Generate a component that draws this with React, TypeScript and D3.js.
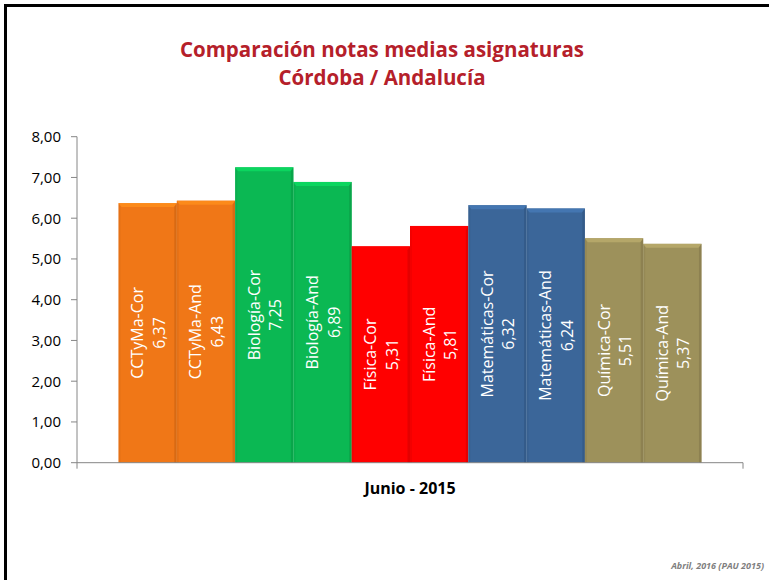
import React from "react";
import * as d3 from "d3";

const seriesNames = [
  "CCTyMa-Cor", "CCTyMa-And", "Biología-Cor", "Biología-And", "Física-Cor",
  "Física-And", "Matemáticas-Cor", "Matemáticas-And", "Química-Cor", "Química-And",
];
const seriesValues = [6.37, 6.43, 7.25, 6.89, 5.31, 5.81, 6.32, 6.24, 5.51, 5.37];
const seriesColors = [
  "#F07717", "#F07717", "#0BB853", "#0BB853", "#FF0000",
  "#FF0000", "#3B6699", "#3B6699", "#9D915B", "#9D915B",
];
const categories = ["Junio - 2015"];
const yTicks = [0, 1, 2, 3, 4, 5, 6, 7, 8];
const titleLines = ["Comparación notas medias asignaturas", "Córdoba / Andalucía"];
const footer = "Abril, 2016 (PAU 2015)";

const W = 769;
const H = 580;
const plotLeft = 77;
const plotRight = 743;
const plotTop = 136.7;
const plotBottom = 462.7;
const FONT = "'Open Sans', sans-serif";

export default function App() {
  const y = d3.scaleLinear().domain([0, 8]).range([plotBottom, plotTop]);
  const x0 = d3.scaleBand().domain(categories).range([plotLeft, plotRight]).paddingInner(0).paddingOuter(0.0712);
  const x1 = d3.scaleBand().domain(seriesNames).range([0, x0.bandwidth()]).padding(0);
  const fmt = (v: number) => d3.format(".2f")(v).replace(".", ",");

  return (
    <svg width={W} height={H} style={{ position: "absolute", left: 0, top: 0, background: "#fff" }} fontFamily={FONT}>
      <rect x={0} y={0} width={W} height={H} fill="#fff" />
      <rect x={5.5} y={5.5} width={W + 10} height={H + 10} fill="none" stroke="#000" strokeWidth={3} />
      {titleLines.map((t, i) => (
        <text key={i} x={382} y={57 + i * 28} textAnchor="middle" fontSize={20.5} fontWeight="bold" fill="#B5202A">{t}</text>
      ))}
      {/* y axis */}
      <line x1={plotLeft} x2={plotLeft} y1={plotTop} y2={plotBottom} stroke="#868686" strokeWidth={1} />
      {yTicks.map((t) => (
        <g key={t}>
          <line x1={plotLeft - 6} x2={plotLeft} y1={y(t)} y2={y(t)} stroke="#868686" />
          <text x={plotLeft - 16} y={y(t)} dy="0.36em" textAnchor="end" fontSize={15} fill="#000">{fmt(t)}</text>
        </g>
      ))}
      {/* bars */}
      {categories.map((c) => (
        <g key={c} transform={`translate(${x0(c)},0)`}>
          {seriesNames.map((s, i) => {
            const bx = x1(s)!;
            const bw = x1.bandwidth();
            const by = y(seriesValues[i]);
            const bh = plotBottom - by;
            const col = d3.color(seriesColors[i])!;
            const light = col.brighter(0.5).formatHex();
            const dark = col.darker(0.6).formatHex();
            const cx = bx + bw / 2;
            const cy = by + bh / 2;
            return (
              <g key={s}>
                <rect x={bx} y={by} width={bw} height={bh} fill={seriesColors[i]} />
                <polygon points={`${bx},${by} ${bx + bw},${by} ${bx + bw - 3},${by + 4} ${bx + 3},${by + 4}`} fill={light} opacity={0.8} />
                <polygon points={`${bx + bw},${by} ${bx + bw},${plotBottom} ${bx + bw - 2.5},${plotBottom} ${bx + bw - 2.5},${by + 4}`} fill={dark} opacity={0.55} />
                <polygon points={`${bx},${by} ${bx + 2},${by + 4} ${bx + 2},${plotBottom} ${bx},${plotBottom}`} fill={dark} opacity={0.25} />
                <text transform={`translate(${cx},${cy}) rotate(-90)`} textAnchor="middle" fontSize={16} fill="#fff">
                  <tspan x={0} y={-4.5}>{s}</tspan>
                  <tspan x={0} y={17}>{fmt(seriesValues[i])}</tspan>
                </text>
              </g>
            );
          })}
          <text x={x0.bandwidth() / 2} y={plotBottom + 31} textAnchor="middle" fontSize={16} fontWeight="bold" fill="#000">{c}</text>
        </g>
      ))}
      {/* x axis */}
      <line x1={plotLeft} x2={plotRight} y1={plotBottom} y2={plotBottom} stroke="#868686" />
      <line x1={plotLeft} x2={plotLeft} y1={plotBottom} y2={plotBottom + 6} stroke="#868686" />
      <line x1={plotRight} x2={plotRight} y1={plotBottom} y2={plotBottom + 6} stroke="#868686" />
      <text x={764} y={569} textAnchor="end" fontSize={9} fontWeight="bold" fontStyle="italic" fill="#7F7F7F">{footer}</text>
    </svg>
  );
}
